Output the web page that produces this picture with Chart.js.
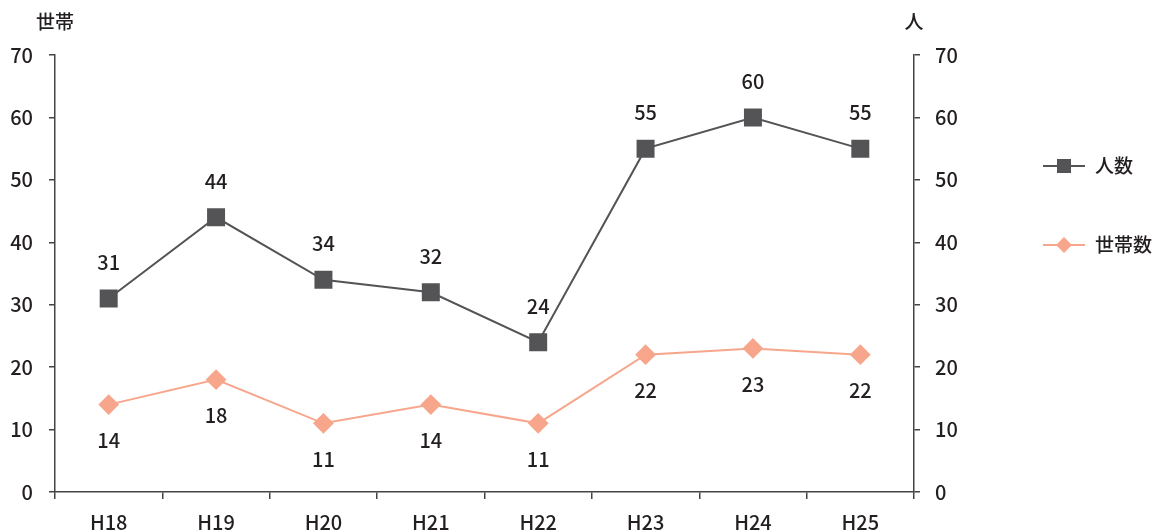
<!DOCTYPE html>
<html>
<head>
<meta charset="utf-8">
<script src="https://cdn.jsdelivr.net/npm/chart.js@4/dist/chart.umd.min.js"></script>
<style>
  html, body { margin: 0; padding: 0; background: #fff; }
  #wrap { width: 1167px; height: 530px; position: relative; }
</style>
</head>
<body>
<div id="wrap"><canvas id="c" width="1167" height="530"></canvas></div>
<script>
// 年度ごとの人数・世帯数
const categories = ['H18', 'H19', 'H20', 'H21', 'H22', 'H23', 'H24', 'H25'];
const persons = [31, 44, 34, 32, 24, 55, 60, 55];
const households = [14, 18, 11, 14, 11, 22, 23, 22];
const yTicks = [0, 10, 20, 30, 40, 50, 60, 70];

const FONT = '"Noto Sans CJK JP", "Noto Sans", sans-serif';
const TEXT = '#231f20';
const AXIS = '#444446';
const GRAY = '#545457';
const SALMON = '#f7a68c';

// 値ラベル・軸単位・凡例を描くプラグイン
const annotate = {
  id: 'annotate',
  afterDatasetsDraw(chart) {
    const ctx = chart.ctx;
    ctx.save();
    ctx.fillStyle = TEXT;
    ctx.font = '500 20px ' + FONT;
    ctx.textAlign = 'center';
    ctx.textBaseline = 'middle';
    chart.data.datasets.forEach((ds, i) => {
      const meta = chart.getDatasetMeta(i);
      const dy = ds.labelAbove ? -36 : 36;
      meta.data.forEach((pt, j) => {
        ctx.fillText(String(ds.data[j]), pt.x, pt.y + dy);
      });
    });

    // 軸の単位
    const left = chart.scales.yL, right = chart.scales.yR;
    ctx.font = '500 19px ' + FONT;
    ctx.fillText('世帯', left.right, 22);
    ctx.fillText('人', right.left, 22);

    // 凡例
    const legendX = 1043, legendW = 42;
    const rows = [166, 245];
    chart.data.datasets.forEach((ds, i) => {
      const y = rows[i];
      ctx.strokeStyle = ds.borderColor;
      ctx.lineWidth = 2;
      ctx.beginPath();
      ctx.moveTo(legendX, y);
      ctx.lineTo(legendX + legendW, y);
      ctx.stroke();
      ctx.fillStyle = ds.backgroundColor;
      const cx = legendX + legendW / 2;
      if (ds.pointStyle === 'rect') {
        ctx.fillRect(cx - 7, y - 7, 14, 14);
      } else {
        ctx.beginPath();
        ctx.moveTo(cx, y - 8);
        ctx.lineTo(cx + 8, y);
        ctx.lineTo(cx, y + 8);
        ctx.lineTo(cx - 8, y);
        ctx.closePath();
        ctx.fill();
      }
      ctx.fillStyle = TEXT;
      ctx.textAlign = 'left';
      ctx.font = '500 19px ' + FONT;
      ctx.fillText(ds.label, 1095, y);
    });
    ctx.restore();
  }
};

function fixedWidth(w) {
  return function (scale) {
    scale.width = w;
    scale.paddingTop = 0; scale.paddingBottom = 0;
    scale.paddingLeft = 0; scale.paddingRight = 0;
  };
}

new Chart(document.getElementById('c'), {
  type: 'line',
  data: {
    labels: categories,
    datasets: [
      {
        label: '人数',
        data: persons,
        yAxisID: 'yR',
        borderColor: GRAY,
        backgroundColor: GRAY,
        borderWidth: 2,
        pointStyle: 'rect',
        pointRadius: 11.3,
        pointHoverRadius: 11.3,
        tension: 0,
        labelAbove: true
      },
      {
        label: '世帯数',
        data: households,
        yAxisID: 'yL',
        borderColor: SALMON,
        backgroundColor: SALMON,
        borderWidth: 2,
        pointStyle: 'rectRot',
        pointRadius: 9,
        pointHoverRadius: 9,
        tension: 0,
        labelAbove: false
      }
    ]
  },
  options: {
    responsive: false,
    animation: false,
    events: [],
    layout: { padding: { top: 55, right: 193, bottom: 0, left: 0 } },
    plugins: { legend: { display: false }, tooltip: { enabled: false } },
    scales: {
      x: {
        offset: true,
        grid: {
          offset: true,
          drawOnChartArea: false,
          drawTicks: true,
          tickLength: 7,
          color: AXIS,
          lineWidth: 1.5
        },
        border: { color: AXIS, width: 1.5 },
        ticks: {
          color: TEXT,
          padding: 11,
          font: { family: FONT, size: 20, weight: '500' },
          maxRotation: 0
        },
        afterFit(scale) {
          scale.height = 38;
          scale.paddingLeft = 0; scale.paddingRight = 0;
          scale.paddingTop = 0; scale.paddingBottom = 0;
        }
      },
      yL: {
        position: 'left',
        min: 0, max: 70,
        afterBuildTicks(scale) { scale.ticks = yTicks.map(v => ({ value: v })); },
        grid: {
          drawOnChartArea: false,
          drawTicks: true,
          tickLength: 6,
          color: AXIS,
          lineWidth: 1.5
        },
        border: { color: AXIS, width: 1.5 },
        ticks: {
          color: TEXT,
          padding: 16,
          font: { family: FONT, size: 20, weight: '500' }
        },
        afterFit: fixedWidth(55)
      },
      yR: {
        position: 'right',
        min: 0, max: 70,
        afterBuildTicks(scale) { scale.ticks = yTicks.map(v => ({ value: v })); },
        grid: {
          drawOnChartArea: false,
          drawTicks: true,
          tickLength: 6,
          color: AXIS,
          lineWidth: 1.5
        },
        border: { color: AXIS, width: 1.5 },
        ticks: {
          color: TEXT,
          padding: 15,
          font: { family: FONT, size: 20, weight: '500' }
        },
        afterFit: fixedWidth(60)
      }
    }
  },
  plugins: [annotate]
});
</script>
</body>
</html>
